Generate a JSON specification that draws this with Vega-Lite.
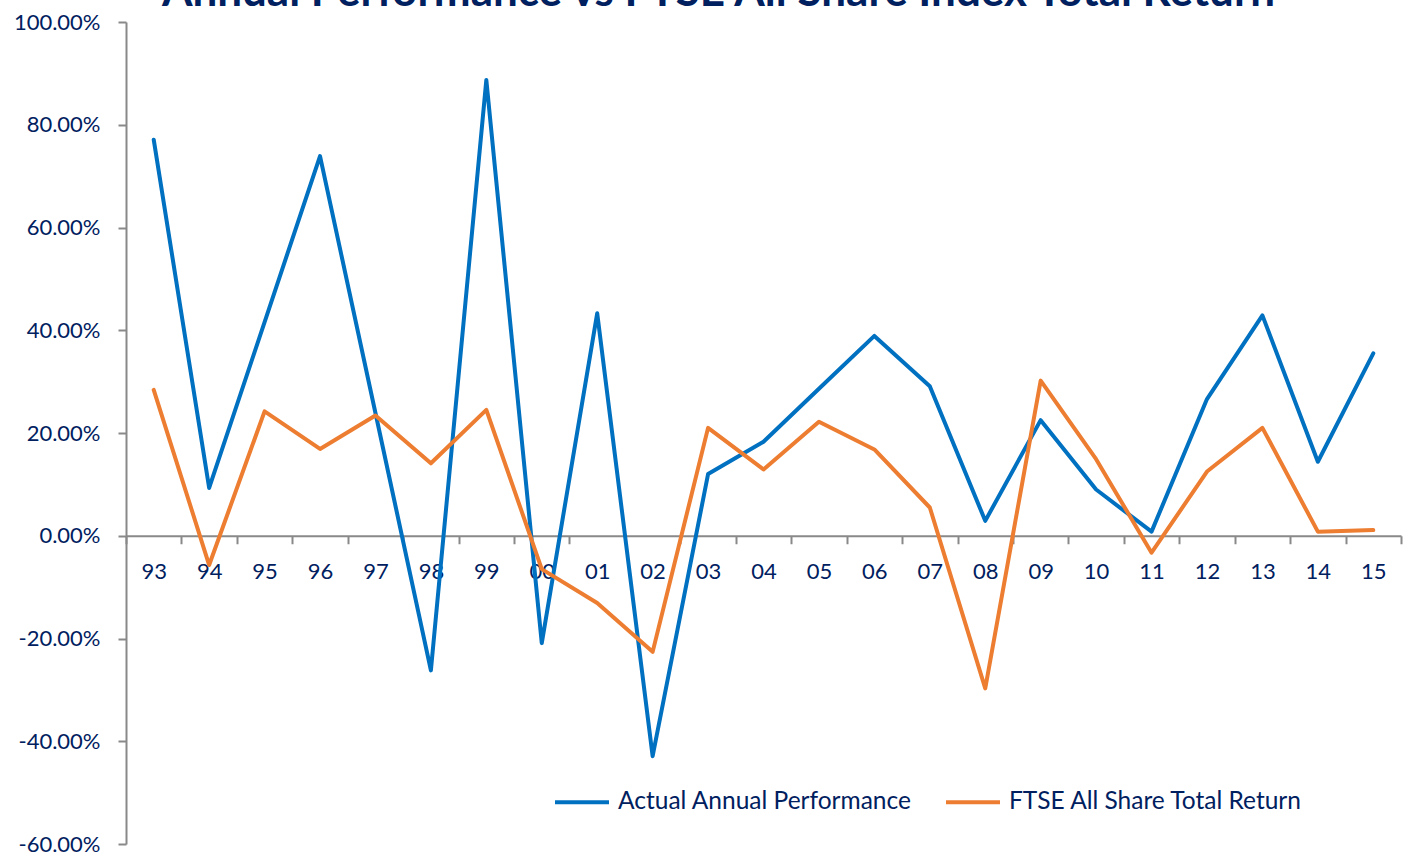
{
  "$schema": "https://vega.github.io/schema/vega-lite/v6.json",
  "width": 1275,
  "height": 822,
  "autosize": {"type": "none"},
  "padding": {"left": 126, "top": 22, "right": 7, "bottom": 10},
  "background": "white",
  "config": {"view": {"stroke": null}, "font": "Lato"},
  "title": {
    "text": "Annual Performance vs FTSE All Share Index Total Return",
    "font": "Lato",
    "fontSize": 44,
    "fontWeight": "bold",
    "color": "#002060",
    "anchor": "middle",
    "frame": "group",
    "dx": -45,
    "dy": 39,
    "offset": 0,
    "baseline": "alphabetic"
  },
  "data": {
    "values": [
      {"year": "93", "series": "Actual Annual Performance", "value": 0.771},
      {"year": "94", "series": "Actual Annual Performance", "value": 0.093},
      {"year": "95", "series": "Actual Annual Performance", "value": 0.416},
      {"year": "96", "series": "Actual Annual Performance", "value": 0.739},
      {"year": "97", "series": "Actual Annual Performance", "value": 0.239},
      {"year": "98", "series": "Actual Annual Performance", "value": -0.262},
      {"year": "99", "series": "Actual Annual Performance", "value": 0.887},
      {"year": "00", "series": "Actual Annual Performance", "value": -0.209},
      {"year": "01", "series": "Actual Annual Performance", "value": 0.433},
      {"year": "02", "series": "Actual Annual Performance", "value": -0.429},
      {"year": "03", "series": "Actual Annual Performance", "value": 0.120},
      {"year": "04", "series": "Actual Annual Performance", "value": 0.183},
      {"year": "05", "series": "Actual Annual Performance", "value": 0.286},
      {"year": "06", "series": "Actual Annual Performance", "value": 0.389},
      {"year": "07", "series": "Actual Annual Performance", "value": 0.291},
      {"year": "08", "series": "Actual Annual Performance", "value": 0.029},
      {"year": "09", "series": "Actual Annual Performance", "value": 0.225},
      {"year": "10", "series": "Actual Annual Performance", "value": 0.090},
      {"year": "11", "series": "Actual Annual Performance", "value": 0.008},
      {"year": "12", "series": "Actual Annual Performance", "value": 0.266},
      {"year": "13", "series": "Actual Annual Performance", "value": 0.429},
      {"year": "14", "series": "Actual Annual Performance", "value": 0.144},
      {"year": "15", "series": "Actual Annual Performance", "value": 0.355},
      {"year": "93", "series": "FTSE All Share Total Return", "value": 0.284},
      {"year": "94", "series": "FTSE All Share Total Return", "value": -0.057},
      {"year": "95", "series": "FTSE All Share Total Return", "value": 0.242},
      {"year": "96", "series": "FTSE All Share Total Return", "value": 0.169},
      {"year": "97", "series": "FTSE All Share Total Return", "value": 0.234},
      {"year": "98", "series": "FTSE All Share Total Return", "value": 0.141},
      {"year": "99", "series": "FTSE All Share Total Return", "value": 0.245},
      {"year": "00", "series": "FTSE All Share Total Return", "value": -0.065},
      {"year": "01", "series": "FTSE All Share Total Return", "value": -0.131},
      {"year": "02", "series": "FTSE All Share Total Return", "value": -0.226},
      {"year": "03", "series": "FTSE All Share Total Return", "value": 0.210},
      {"year": "04", "series": "FTSE All Share Total Return", "value": 0.129},
      {"year": "05", "series": "FTSE All Share Total Return", "value": 0.222},
      {"year": "06", "series": "FTSE All Share Total Return", "value": 0.168},
      {"year": "07", "series": "FTSE All Share Total Return", "value": 0.055},
      {"year": "08", "series": "FTSE All Share Total Return", "value": -0.297},
      {"year": "09", "series": "FTSE All Share Total Return", "value": 0.302},
      {"year": "10", "series": "FTSE All Share Total Return", "value": 0.149},
      {"year": "11", "series": "FTSE All Share Total Return", "value": -0.033},
      {"year": "12", "series": "FTSE All Share Total Return", "value": 0.125},
      {"year": "13", "series": "FTSE All Share Total Return", "value": 0.210},
      {"year": "14", "series": "FTSE All Share Total Return", "value": 0.008},
      {"year": "15", "series": "FTSE All Share Total Return", "value": 0.011}
    ]
  },
  "mark": {"type": "line", "strokeWidth": 4, "strokeJoin": "round", "strokeCap": "round"},
  "encoding": {
    "x": {
      "field": "year",
      "type": "ordinal",
      "sort": ["93","94","95","96","97","98","99","00","01","02","03","04","05","06","07","08","09","10","11","12","13","14","15"],
      "bandPosition": 0.5,
      "scale": {"type": "band", "paddingInner": 0, "paddingOuter": 0},
      "axis": {
        "title": null,
        "orient": "bottom",
        "offset": -308.25,
        "domainColor": "#898989",
        "domainWidth": 2,
        "tickColor": "#898989",
        "tickWidth": 2,
        "tickSize": 8,
        "tickBand": "extent",
        "labelAngle": 0,
        "labelFont": "Lato",
        "labelFontSize": 22,
        "labelColor": "#002060",
        "labelPadding": 18,
        "grid": false
      }
    },
    "y": {
      "field": "value",
      "type": "quantitative",
      "scale": {"domain": [-0.6, 1.0], "nice": false, "zero": false},
      "axis": {
        "title": null,
        "values": [-0.6, -0.4, -0.2, 0, 0.2, 0.4, 0.6, 0.8, 1.0],
        "format": ".2%",
        "labelExpr": "replace(datum.label, '\u2212', '-')",
        "grid": false,
        "domainColor": "#898989",
        "domainWidth": 2,
        "tickColor": "#898989",
        "tickWidth": 2,
        "tickSize": 8,
        "labelFont": "Lato",
        "labelFontSize": 22,
        "labelColor": "#002060",
        "labelPadding": 18
      }
    },
    "color": {
      "field": "series",
      "type": "nominal",
      "scale": {"domain": ["Actual Annual Performance", "FTSE All Share Total Return"], "range": ["#0070C0", "#ED7D31"]},
      "legend": {
        "title": null,
        "orient": "none",
        "legendX": 427,
        "legendY": 751,
        "direction": "horizontal",
        "symbolType": "stroke",
        "symbolSize": 2916,
        "symbolStrokeWidth": 4,
        "labelFont": "Lato",
        "labelFontSize": 24.5,
        "labelLimit": 0,
        "labelColor": "#002060",
        "labelOffset": 7,
        "columnPadding": 26,
        "padding": 0
      }
    }
  }
}
